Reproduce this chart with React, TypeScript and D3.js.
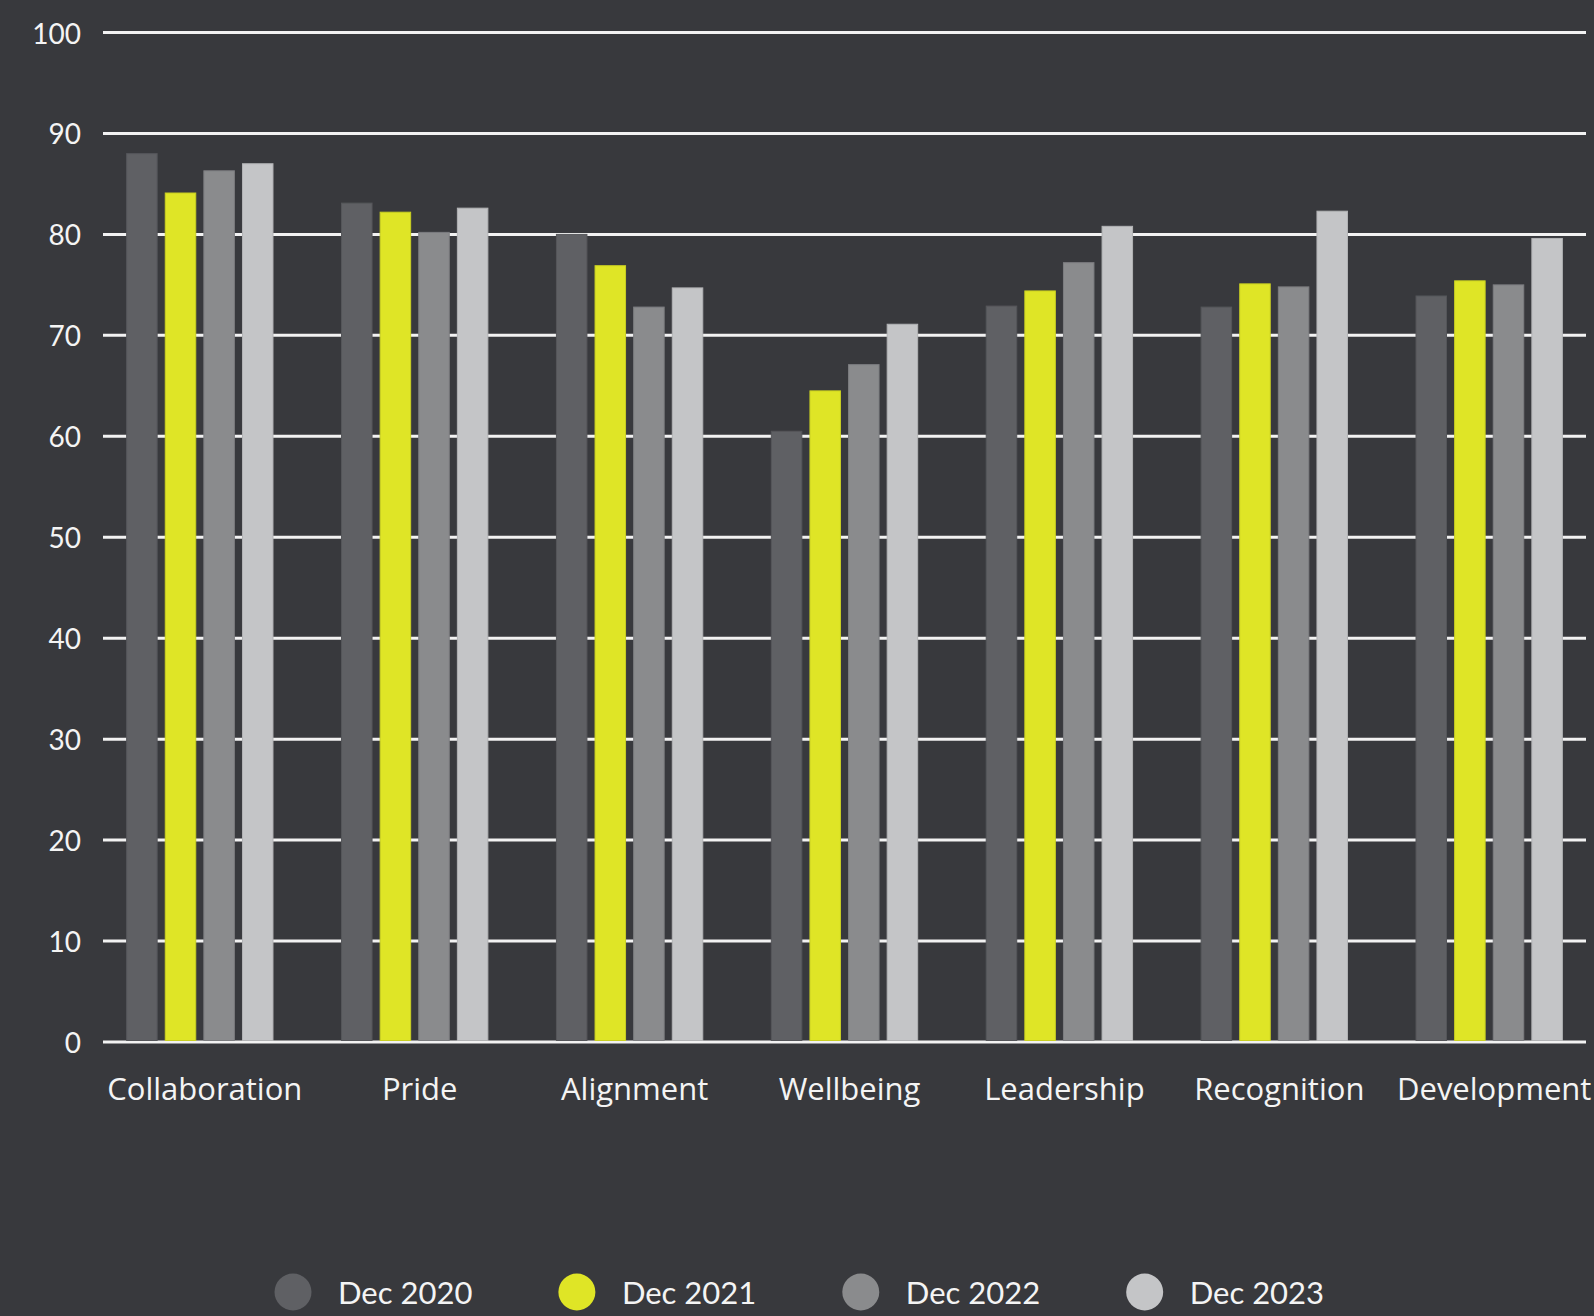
import React, { useEffect, useRef } from "react";
import * as d3 from "d3";

const categories = ["Collaboration", "Pride", "Alignment", "Wellbeing", "Leadership", "Recognition", "Development"];
const seriesNames = ["Dec 2020", "Dec 2021", "Dec 2022", "Dec 2023"];
const dec2020 = [88.0, 83.1, 80.0, 60.5, 72.9, 72.8, 73.9];
const dec2021 = [84.1, 82.2, 76.9, 64.5, 74.4, 75.1, 75.4];
const dec2022 = [86.3, 80.2, 72.8, 67.1, 77.2, 74.8, 75.0];
const dec2023 = [87.0, 82.6, 74.7, 71.1, 80.8, 82.3, 79.6];
const yTicks = [0, 10, 20, 30, 40, 50, 60, 70, 80, 90, 100];
const seriesColors = ["#5f6064", "#dfe526", "#8a8b8d", "#c4c5c7"];
const seriesStroke = ["#55565a", "#c9cf22", "#7c7d80", "#b2b3b5"];

const W = 1594;
const H = 1316;
const BG = "#38393d";
const FONT = "Lato, 'Noto Sans', sans-serif";
const LABEL_FONT = "'Open Sans', Lato, sans-serif";

export default function App() {
  const ref = useRef<SVGSVGElement>(null);

  useEffect(() => {
    const svg = d3.select(ref.current);
    svg.selectAll("*").remove();

    const left = 103, right = 1586, top = 32.5, bottom = 1042;
    const values = [dec2020, dec2021, dec2022, dec2023];

    const y = d3.scaleLinear().domain([0, 100]).range([bottom, top]);
    const x0 = d3.scaleBand<string>().domain(categories).range([left, right]).paddingInner(0.319).paddingOuter(0.11);
    const x1 = d3.scaleBand<string>().domain(seriesNames).range([0, x0.bandwidth()]).paddingInner(0.21).paddingOuter(0);

    svg.append("rect").attr("width", W).attr("height", H).attr("fill", BG);

    // grid
    const grid = svg.append("g");
    grid.selectAll("line").data(yTicks).join("line")
      .attr("x1", left).attr("x2", right)
      .attr("y1", (d) => y(d)).attr("y2", (d) => y(d))
      .attr("stroke", "#f2f2f2").attr("stroke-width", 3);

    grid.selectAll("text").data(yTicks).join("text")
      .attr("x", 81).attr("y", (d) => y(d))
      .attr("text-anchor", "end").attr("dominant-baseline", "central")
      .attr("fill", "#f4f4f4").attr("font-family", FONT).attr("font-size", 28)
      .text((d) => String(d));

    // bars
    const groups = svg.append("g").selectAll("g").data(categories).join("g")
      .attr("transform", (c) => `translate(${x0(c)},0)`);
    groups.selectAll("rect").data((c, ci) => seriesNames.map((s, si) => ({ s, si, v: values[si][ci] })))
      .join("rect")
      .attr("x", (d) => x1(d.s)!)
      .attr("width", x1.bandwidth())
      .attr("y", (d) => y(d.v))
      .attr("height", (d) => bottom - 1.5 - y(d.v))
      .attr("fill", (d) => seriesColors[d.si])
      .attr("stroke", (d) => seriesStroke[d.si]).attr("stroke-width", 1);

    // x labels
    svg.append("g").selectAll("text").data(categories).join("text")
      .attr("x", (c) => x0(c)! + x0.bandwidth() / 2 + 5)
      .attr("y", 1088)
      .attr("text-anchor", "middle").attr("dominant-baseline", "central")
      .attr("fill", "#f4f4f4").attr("font-family", LABEL_FONT).attr("font-size", 31)
      .text((c) => c);

    // legend (flow layout)
    const lg = svg.append("g");
    let cx = 293;
    const ly = 1292;
    seriesNames.forEach((s, i) => {
      lg.append("circle").attr("cx", cx).attr("cy", ly).attr("r", 18.5).attr("fill", seriesColors[i]);
      const t = lg.append("text").attr("x", cx + 45).attr("y", ly)
        .attr("dominant-baseline", "central")
        .attr("fill", "#f4f4f4").attr("font-family", FONT).attr("font-size", 31)
        .text(s);
      const w = (t.node() as SVGTextElement).getComputedTextLength();
      cx = cx + 45 + w + 86 + 18.5;
    });
  }, []);

  return (
    <>
      <style>{`body{margin:0;background:${BG};}`}</style>
      <svg ref={ref} width={W} height={H} style={{ display: "block" }} />
    </>
  );
}
